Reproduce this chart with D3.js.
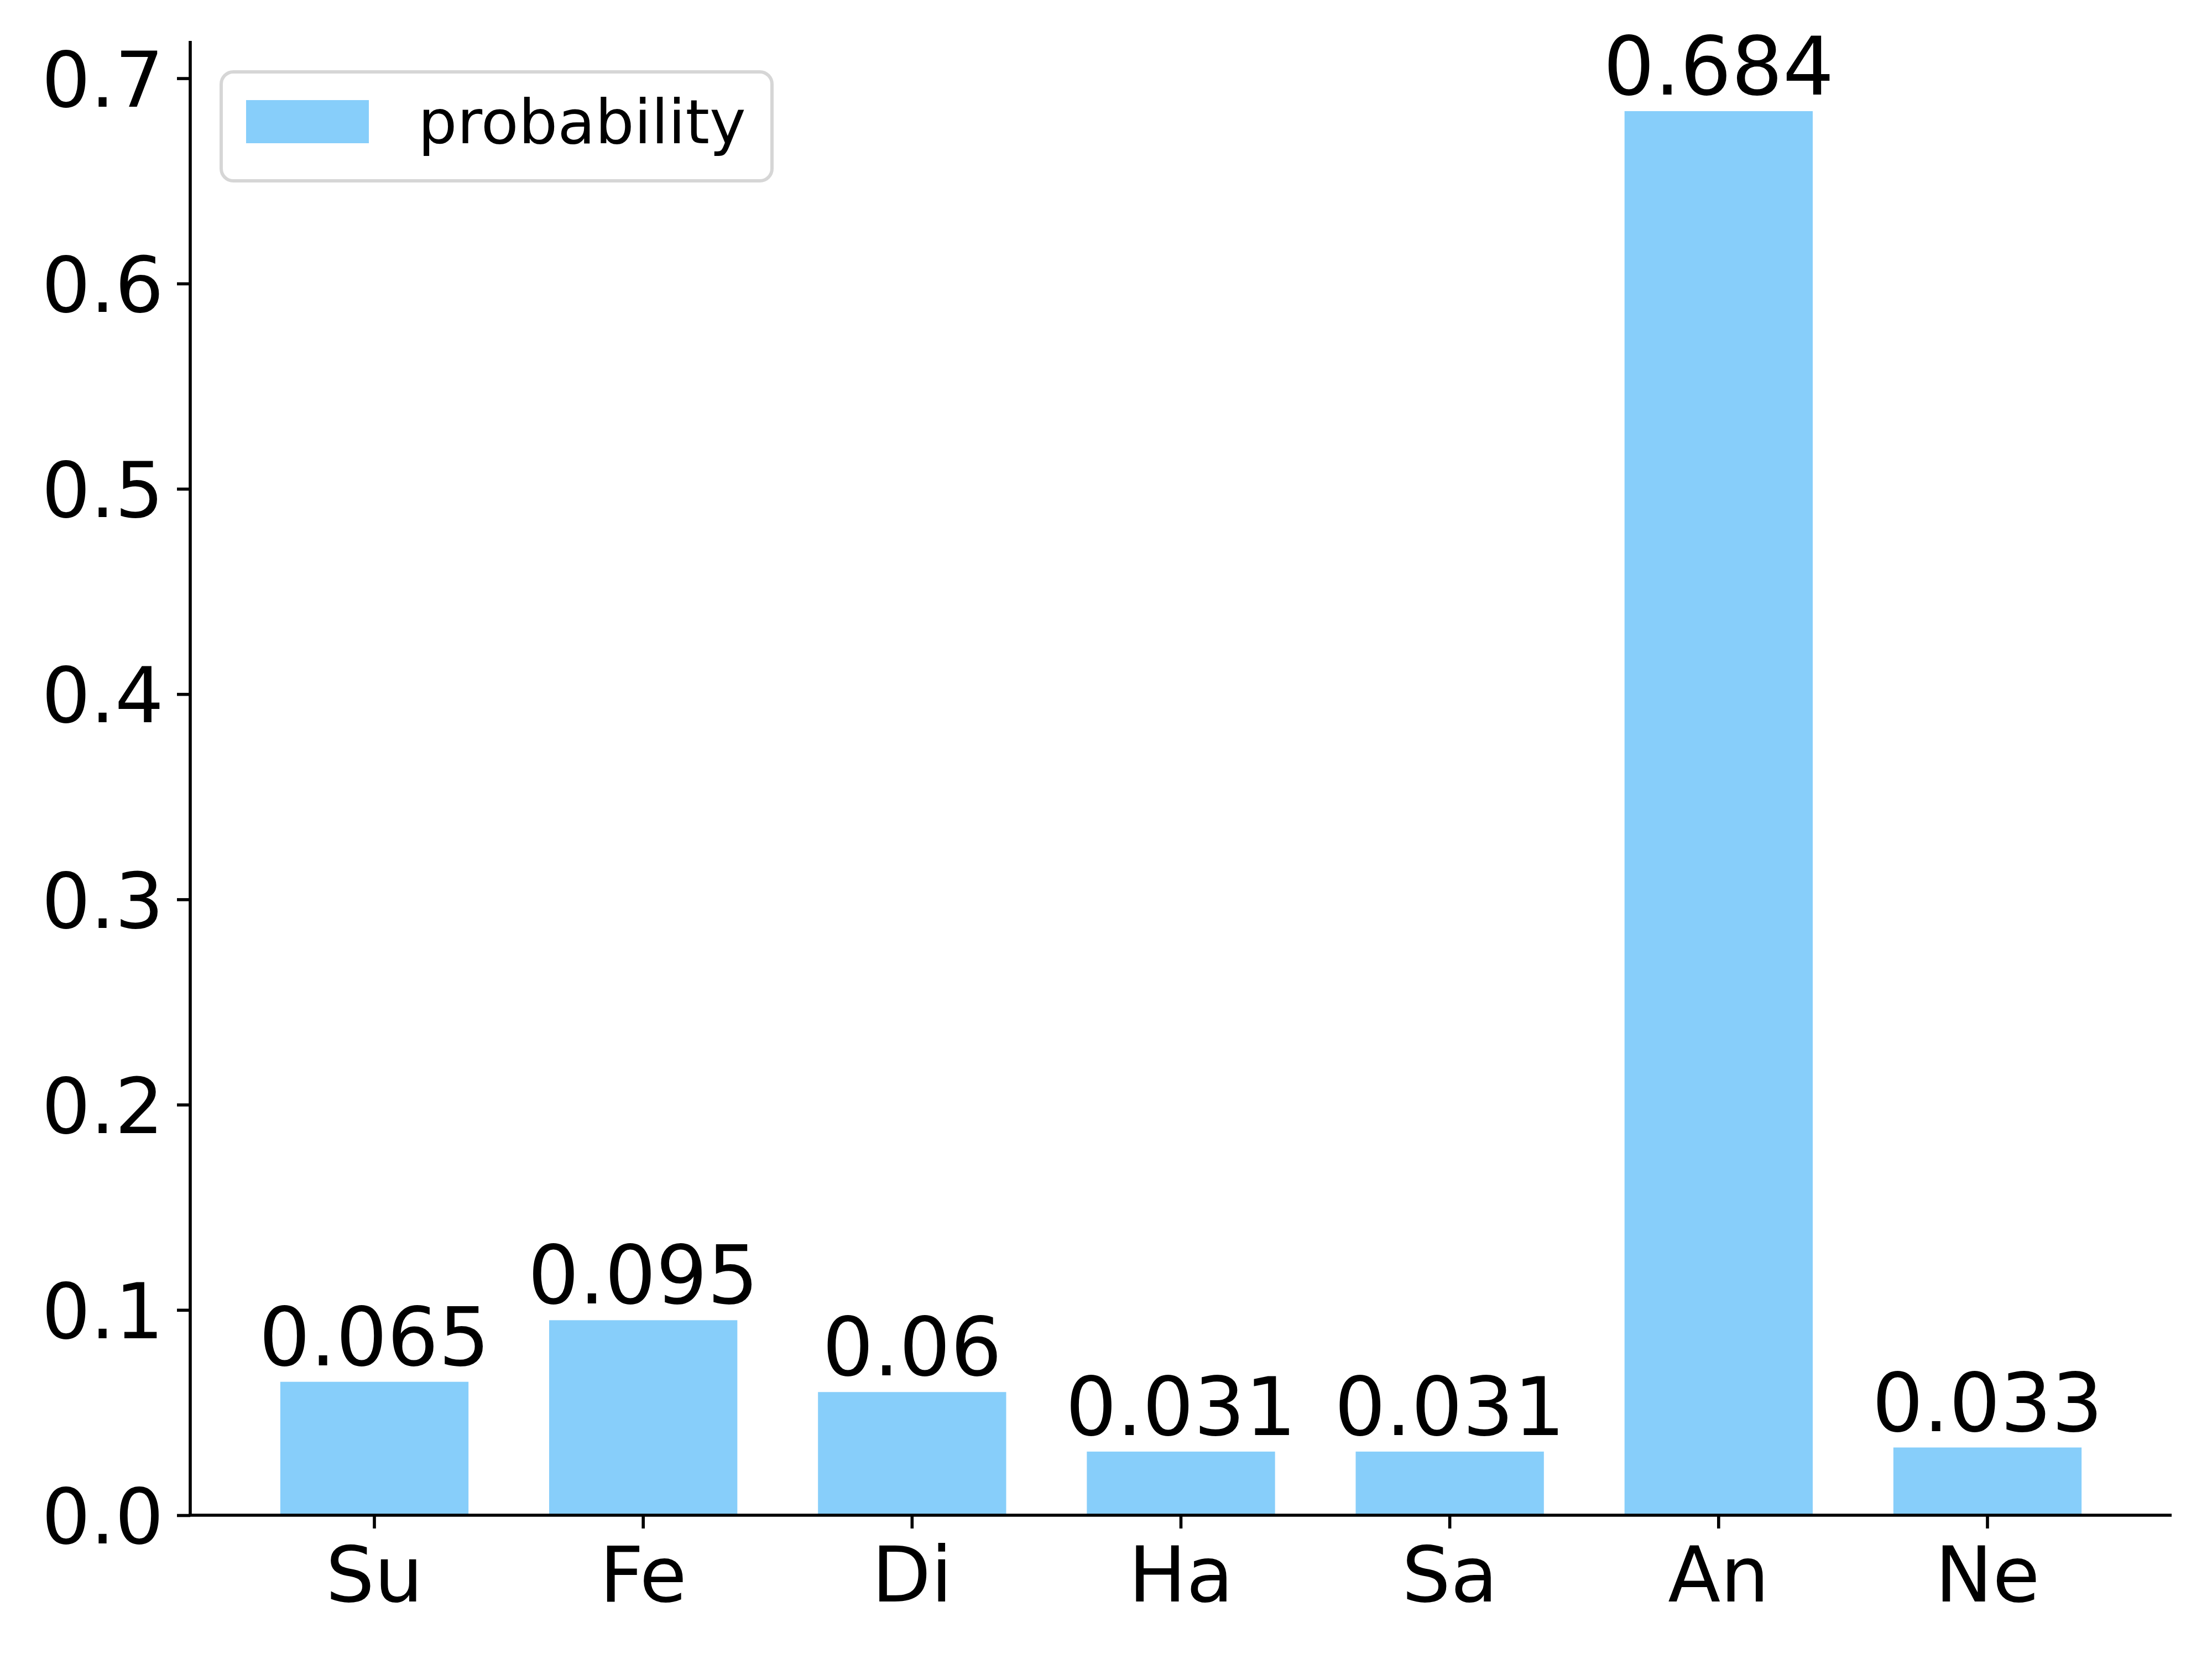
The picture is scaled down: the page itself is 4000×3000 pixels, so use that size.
<!DOCTYPE html>
<html>
<head>
<meta charset="utf-8">
<script src="https://cdn.jsdelivr.net/npm/d3@7/dist/d3.min.js"></script>
<style>
  html, body { margin: 0; padding: 0; background: #ffffff; }
  svg { display: block; }
  text { font-family: "DejaVu Sans", sans-serif; }
</style>
</head>
<body>
<script>
// ---- data ----
const categories = ["Su", "Fe", "Di", "Ha", "Sa", "An", "Ne"];
const probability = [0.065, 0.095, 0.06, 0.031, 0.031, 0.684, 0.033];
const yTickValues = [0.0, 0.1, 0.2, 0.3, 0.4, 0.5, 0.6, 0.7];
const seriesName = "probability";

// ---- layout ----
const W = 4000, H = 3000;
const plotLeft = 344, plotRight = 3927, plotTop = 74, plotBottom = 2740;
const barColor = "#87cefa";
const tickFont = 138.9;   // 20pt @ 500dpi
const labelFont = 145.8;  // 21pt @ 500dpi
const legendFont = 111.1; // 16pt @ 500dpi
const lw = 5.6;

const svg = d3.select("body").append("svg")
  .attr("width", W).attr("height", H)
  .attr("viewBox", `0 0 ${W} ${H}`);

svg.append("rect").attr("width", W).attr("height", H).attr("fill", "#ffffff");

const yMax = d3.max(probability) * 1.05;

const x = d3.scaleBand()
  .domain(categories)
  .range([plotLeft, plotRight])
  .paddingInner(0.3)
  .paddingOuter(0.335);

const y = d3.scaleLinear()
  .domain([0, yMax])
  .range([plotBottom, plotTop]);

const data = categories.map((c, i) => ({ c, v: probability[i] }));

// bars
svg.append("g").selectAll("rect")
  .data(data).join("rect")
  .attr("x", d => x(d.c))
  .attr("width", x.bandwidth())
  .attr("y", d => y(d.v))
  .attr("height", d => y(0) - y(d.v))
  .attr("fill", barColor);

// bar labels
svg.append("g").selectAll("text")
  .data(data).join("text")
  .attr("x", d => x(d.c) + x.bandwidth() / 2)
  .attr("y", d => y(d.v) - 30)
  .attr("text-anchor", "middle")
  .attr("font-size", labelFont)
  .attr("fill", "#000")
  .text(d => String(d.v));

// y axis
const yAxis = svg.append("g")
  .attr("transform", `translate(${plotLeft},0)`)
  .call(d3.axisLeft(y).tickValues(yTickValues).tickFormat(d3.format(".1f"))
        .tickSize(24).tickSizeOuter(0).tickPadding(24));
yAxis.attr("font-family", null).attr("font-size", null);
yAxis.select(".domain").attr("stroke", "#000").attr("stroke-width", lw)
  .attr("d", `M0,${plotTop}V${plotBottom}`);
yAxis.selectAll(".tick line").attr("stroke", "#000").attr("stroke-width", lw);
yAxis.selectAll(".tick text")
  .attr("font-size", tickFont)
  .attr("font-family", "DejaVu Sans")
  .attr("fill", "#000")
  .attr("dy", "0.365em");

// x axis
const xAxis = svg.append("g")
  .attr("transform", `translate(0,${plotBottom})`)
  .call(d3.axisBottom(x).tickSize(24).tickSizeOuter(0).tickPadding(24));
xAxis.attr("font-family", null).attr("font-size", null);
xAxis.select(".domain").attr("stroke", "#000").attr("stroke-width", lw)
  .attr("d", `M${plotLeft - lw / 2},0H${plotRight}`);
xAxis.selectAll(".tick line").attr("stroke", "#000").attr("stroke-width", lw);
xAxis.selectAll(".tick text")
  .attr("font-size", tickFont)
  .attr("font-family", "DejaVu Sans")
  .attr("fill", "#000")
  .attr("y", 48)
  .attr("dy", "0.78em");

// legend
const lg = svg.append("g");
lg.append("rect")
  .attr("x", 400).attr("y", 130)
  .attr("width", 996).attr("height", 197)
  .attr("rx", 22).attr("ry", 22)
  .attr("fill", "#ffffff").attr("fill-opacity", 0.8)
  .attr("stroke", "#d6d6d6").attr("stroke-width", 6);
lg.append("rect")
  .attr("x", 445).attr("y", 181)
  .attr("width", 222).attr("height", 78)
  .attr("fill", barColor);
lg.append("text")
  .attr("x", 756).attr("y", 259)
  .attr("font-size", legendFont)
  .attr("fill", "#000")
  .text(seriesName);
</script>
</body>
</html>
